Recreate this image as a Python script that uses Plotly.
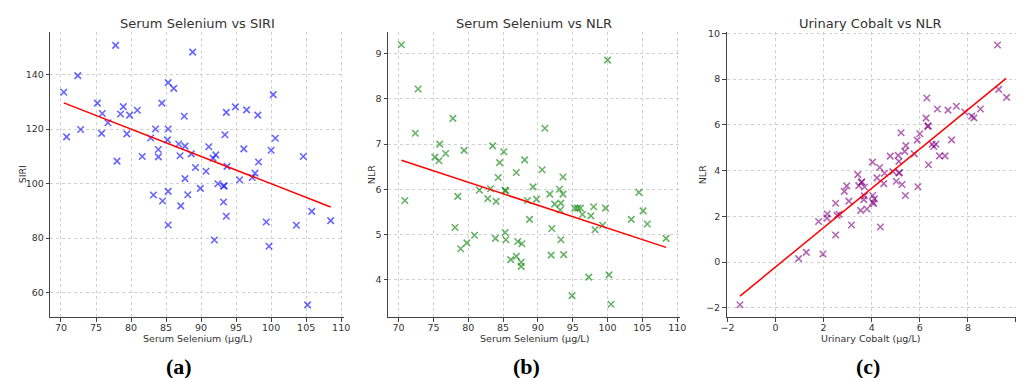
import plotly.graph_objects as go

W, H = 1022, 378

# ---------------- Panel (a): Serum Selenium vs SIRI ----------------
sel_a = [70.4, 70.8, 72.4, 72.8, 75.2, 75.8, 75.9, 76.7, 77.8, 78.0,
         78.5, 78.9, 79.4, 79.8, 80.9, 81.6, 82.8, 83.2, 83.5, 83.9,
         83.9, 84.4, 84.5, 85.2, 85.3, 85.3, 85.3, 85.3, 86.1, 86.8,
         87.0, 87.1, 87.6, 87.7, 87.7, 88.1, 88.6, 88.8, 89.2, 89.9,
         90.7, 91.1, 91.7, 91.9, 92.1, 92.4, 93.2, 93.2, 93.3, 93.4,
         93.6, 93.6, 93.7, 94.9, 95.5, 96.1, 96.5, 97.3, 97.7, 98.1,
         98.2, 99.3, 99.7, 100.0, 100.3, 100.6, 103.6, 104.6, 105.2, 105.8,
         108.5]
siri = [133.5, 117.1, 139.6, 119.8, 129.5, 118.4, 125.7, 122.3, 150.7, 108.2,
        125.5, 128.2, 118.2, 125.1, 126.9, 109.9, 116.7, 95.8, 120.0, 112.5,
        109.8, 129.5, 93.6, 116.0, 137.0, 120.0, 97.1, 84.8, 134.9, 114.5,
        110.2, 91.8, 124.7, 113.7, 101.8, 95.9, 110.9, 148.2, 105.9, 98.2,
        104.5, 113.5, 109.3, 79.3, 110.5, 99.9, 99.0, 93.2, 99.2, 117.9,
        126.1, 88.0, 106.3, 128.1, 101.4, 112.7, 127.0, 102.2, 103.8, 125.1,
        107.9, 85.9, 77.0, 112.2, 132.6, 116.6, 84.7, 109.9, 55.5, 89.8,
        86.4]
fit_a_x = [70.4, 108.5]
fit_a_y = [129.6, 91.4]

# ---------------- Panel (b): Serum Selenium vs NLR ----------------
sel_b = [70.4, 70.9, 72.4, 72.8, 75.2, 75.8, 75.9, 76.75, 77.8, 78.1,
         78.5, 78.9, 79.4, 79.8, 80.9, 81.6, 82.8, 83.2, 83.5, 83.9,
         84.0, 84.3, 84.5, 85.1, 85.3, 85.35, 85.3, 85.4, 86.1, 86.9,
         86.9, 87.1, 87.6, 87.6, 87.7, 88.1, 88.5, 88.8, 89.3, 89.8,
         90.6, 91.0, 91.7, 91.9, 92.0, 92.4, 93.1, 93.2, 93.3, 93.3,
         93.6, 93.6, 93.7, 94.9, 95.3, 95.7, 96.1, 96.4, 97.3, 97.6,
         98.0, 98.2, 99.3, 99.7, 100.0, 100.2, 100.5, 103.4, 104.5, 105.1,
         105.7, 108.4]
nlr_b = [9.20, 5.75, 7.24, 8.22, 6.71, 6.63, 7.00, 6.79, 7.57, 5.15,
         5.84, 4.68, 6.86, 4.81, 4.98, 5.98, 5.79, 6.01, 6.96, 4.91,
         5.73, 6.26, 6.59, 6.83, 5.98, 5.96, 5.04, 4.88, 4.44, 6.37,
         4.51, 4.84, 4.38, 4.29, 4.79, 6.65, 5.75, 5.33, 6.05, 5.78,
         6.43, 7.35, 5.89, 4.54, 5.13, 5.67, 6.00, 5.54, 5.69, 4.88,
         5.89, 6.27, 4.55, 3.64, 5.58, 5.58, 5.58, 5.44, 4.05, 5.41,
         5.61, 5.10, 5.20, 5.58, 8.86, 4.10, 3.45, 5.33, 5.93, 5.52,
         5.23, 4.91]
fit_b_x = [70.4, 108.4]
fit_b_y = [6.64, 4.71]

# ---------------- Panel (c): Urinary Cobalt vs NLR ----------------
cobalt = [-1.48, 0.96, 1.28, 1.97, 1.79, 2.15, 2.14, 2.50, 2.56, 2.64,
          2.50, 2.86, 2.96, 3.05, 3.16, 3.42, 3.46, 3.57, 3.59, 3.70,
          3.69, 3.67, 3.54, 3.80, 4.03, 4.04, 4.11, 4.04, 4.08, 4.22,
          4.33, 4.50, 4.53, 4.36, 4.88, 4.77, 5.02, 5.10, 5.13, 5.13,
          5.15, 5.22, 5.26, 5.37, 5.40, 5.42, 5.77, 5.89, 5.92, 6.00,
          6.26, 6.29, 6.33, 6.35, 6.36, 6.51, 6.58, 6.67, 6.73, 6.82,
          7.05, 7.17, 7.32, 7.52, 7.87, 8.16, 8.25, 8.52, 9.23, 9.28,
          9.61]
nlr_c = [-1.87, 0.15, 0.42, 0.35, 1.77, 2.10, 1.92, 1.18, 2.04, 2.09,
         2.57, 3.09, 3.33, 2.66, 1.62, 3.82, 3.34, 3.48, 3.51, 3.28,
         2.89, 2.73, 2.26, 2.32, 4.37, 2.91, 2.76, 2.61, 2.56, 3.68,
         4.13, 3.43, 3.88, 1.53, 3.95, 4.63, 3.53, 4.66, 4.40, 3.89,
         3.91, 5.65, 3.39, 4.84, 2.91, 5.09, 4.73, 5.33, 3.29, 5.61,
         6.29, 7.17, 5.93, 5.95, 4.25, 5.15, 5.05, 5.15, 6.69, 4.64,
         4.64, 6.64, 5.34, 6.81, 6.56, 6.38, 6.30, 6.69, 9.49, 7.55,
         7.20]
fit_c_x = [-1.48, 9.59]
fit_c_y = [-1.49, 8.03]

titles = ["Serum Selenium vs SIRI", "Serum Selenium vs NLR", "Urinary Cobalt vs NLR"]
xlabels = ["Serum Selenium (µg/L)", "Serum Selenium (µg/L)", "Urinary Cobalt (µg/L)"]
ylabels = ["SIRI", "NLR", "NLR"]
panel_tags = ["(a)", "(b)", "(c)"]

# ---------------- Layout geometry (pixels) ----------------
def px_x(p):
    return p / W

def px_y(p):
    return 1 - p / H

plot_top, plot_bot = 28.0, 316.7
x_doms = [(45.0, 342.0), (386.7, 682.0), (729.3, 1022.0)]
x_ranges = [[68.5, 110.4], [68.5, 110.4], [-2.03, 10.0]]
y_ranges = [[50.9, 155.7], [3.16, 9.49], [-2.42, 10.07]]
x_dticks = [5, 5, 2]
y_dticks = [20, 1, 2]
title_cx = [193.5, 534.3, 875.0]
ylabel_cx = [17.0, 370.0, 705.0]
tag_cx = [175.0, 527.0, 872.0]

colors = ["rgba(0,0,255,0.6)", "rgba(0,128,0,0.6)", "rgba(128,0,128,0.6)"]
xs = [sel_a, sel_b, cobalt]
ys = [siri, nlr_b, nlr_c]
fits = [(fit_a_x, fit_a_y), (fit_b_x, fit_b_y), (fit_c_x, fit_c_y)]

fig = go.Figure()
text_col = "#333333"
axis_col = "#444444"
font_family = "DejaVu Sans"

annotations = []
for i in range(3):
    sfx = "" if i == 0 else str(i + 1)
    xa, ya = "x" + sfx, "y" + sfx
    fig.add_trace(go.Scatter(
        x=xs[i], y=ys[i], mode="markers", xaxis=xa, yaxis=ya,
        marker=dict(symbol="x-thin", size=6.5, color=colors[i],
                    line=dict(width=1.6, color=colors[i])),
        showlegend=False, hoverinfo="skip"))
    fig.add_trace(go.Scatter(
        x=fits[i][0], y=fits[i][1], mode="lines", xaxis=xa, yaxis=ya,
        line=dict(color="#ff0000", width=1.5),
        showlegend=False, hoverinfo="skip"))

    common = dict(
        showgrid=True, gridcolor="#d0d0d0", griddash="dot", gridwidth=1,
        zeroline=False, showline=True, linecolor=axis_col, linewidth=1.3,
        ticks="outside", ticklen=3.5, tickwidth=1, tickcolor=axis_col,
        tickfont=dict(family=font_family, size=9.5, color=text_col),
        mirror=False,
    )
    fig.layout["xaxis" + sfx] = dict(
        domain=[px_x(x_doms[i][0]), px_x(x_doms[i][1])],
        range=x_ranges[i], dtick=x_dticks[i], tick0=0,
        ticklabelstandoff=-2,
        anchor=ya, **common)
    fig.layout["yaxis" + sfx] = dict(
        domain=[px_y(plot_bot), px_y(plot_top)],
        range=y_ranges[i], dtick=y_dticks[i], tick0=0,
        anchor=xa, **common)

    # title
    annotations.append(dict(
        text=titles[i], x=px_x(title_cx[i]), y=px_y(19.5), xref="paper", yref="paper",
        xanchor="center", yanchor="middle", showarrow=False,
        font=dict(family=font_family, size=13, color=text_col)))
    # x label
    xc = (x_doms[i][0] + x_doms[i][1]) / 2
    annotations.append(dict(
        text=xlabels[i], x=px_x(xc), y=px_y(338.0), xref="paper", yref="paper",
        xanchor="center", yanchor="middle", showarrow=False,
        font=dict(family=font_family, size=9.5, color=text_col)))
    # y label
    annotations.append(dict(
        text=ylabels[i], x=px_x(ylabel_cx[i]), y=px_y((plot_top + plot_bot) / 2),
        xref="paper", yref="paper", xanchor="center", yanchor="middle",
        textangle=-90, showarrow=False,
        font=dict(family=font_family, size=9.5, color=text_col)))
    # panel tag
    annotations.append(dict(
        text="<b>" + panel_tags[i] + "</b>", x=px_x(tag_cx[i]), y=px_y(366.0),
        xref="paper", yref="paper", xanchor="center", yanchor="middle",
        showarrow=False,
        font=dict(family="Liberation Serif", size=22, color="#000000")))

fig.update_layout(
    width=W, height=H,
    margin=dict(l=0, r=0, t=0, b=0),
    paper_bgcolor="white", plot_bgcolor="white",
    annotations=annotations,
)

fig.write_html(
    "out.html",
    config={"displayModeBar": False},
    post_script="document.body.style.margin='0';document.body.style.overflow='hidden';",
)
